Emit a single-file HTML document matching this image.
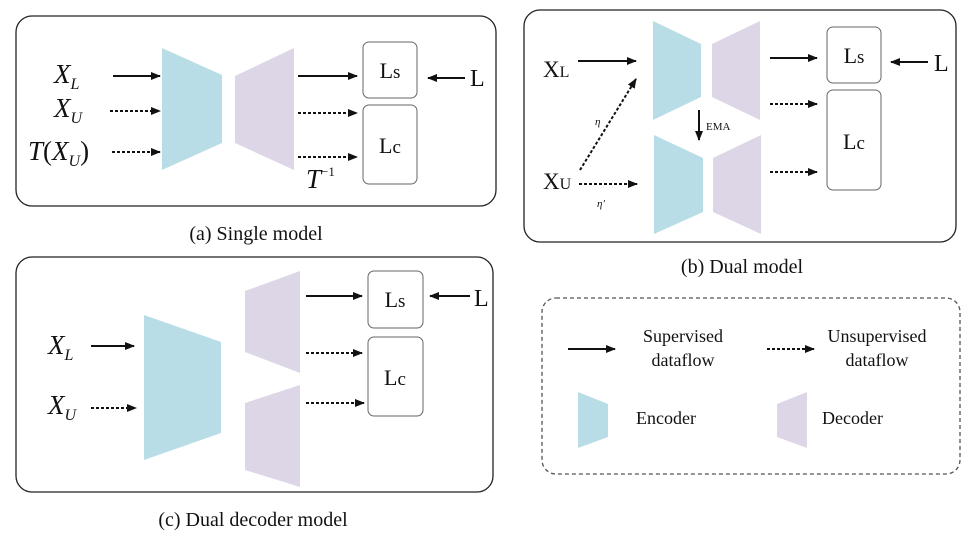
<!DOCTYPE html>
<html><head><meta charset="utf-8"><style>
html,body{margin:0;padding:0;background:#fff;}
svg{display:block;font-family:"Liberation Serif",serif;}
.i{font-style:italic;}
</style></head><body>
<svg width="973" height="542" viewBox="0 0 973 542" xmlns="http://www.w3.org/2000/svg">
<defs>
<marker id="a" markerWidth="10" markerHeight="8" refX="9" refY="4" orient="auto" markerUnits="userSpaceOnUse"><path d="M0,0 L10,4 L0,8 Z" fill="#111"/></marker>
</defs>
<g stroke="#222" fill="none" stroke-width="1.3">
<rect x="16" y="16" width="480" height="190" rx="16"/>
<rect x="524" y="10" width="432" height="232" rx="16"/>
<rect x="16" y="257" width="477" height="235" rx="16"/>
<rect x="542" y="298" width="418" height="176" rx="14" stroke-dasharray="4,3" stroke="#555"/>
</g>
<g stroke="#666" fill="#fff" stroke-width="1">
<rect x="363" y="42" width="54" height="56" rx="6"/>
<rect x="363" y="105" width="54" height="79" rx="6"/>
<rect x="827" y="27" width="54" height="56" rx="6"/>
<rect x="827" y="90" width="54" height="100" rx="6"/>
<rect x="368" y="271" width="55" height="57" rx="6"/>
<rect x="368" y="337" width="55" height="79" rx="6"/>
</g>
<g fill="#b8dde6">
<polygon points="162,48 222,75 222,143 162,170"/>
<polygon points="653,21 701,44 701,97 653,120"/>
<polygon points="654,135 703,158 703,212 654,234"/>
<polygon points="144,315 221,342 221,433 144,460"/>
<polygon points="578,392 608,404 608,437 578,448"/>
</g>
<g fill="#dcd6e6">
<polygon points="235,76 294,48 294,170 235,143"/>
<polygon points="712,44 760,21 760,120 712,97"/>
<polygon points="713,158 761,135 761,234 713,212"/>
<polygon points="245,291 300,271 300,373 245,352"/>
<polygon points="245,403 300,385 300,487 245,470"/>
<polygon points="777,404 807,392 807,448 777,437"/>
</g>
<g stroke="#111" stroke-width="2" marker-end="url(#a)">
<line x1="113" y1="76" x2="160" y2="76"/>
<line x1="298" y1="76" x2="357" y2="76"/>
<line x1="465" y1="78" x2="428" y2="78"/>
<line x1="578" y1="61" x2="636" y2="61"/>
<line x1="770" y1="58" x2="817" y2="58"/>
<line x1="928" y1="62" x2="891" y2="62"/>
<line x1="699" y1="110" x2="699" y2="140"/>
<line x1="91" y1="346" x2="134" y2="346"/>
<line x1="306" y1="296" x2="362" y2="296"/>
<line x1="470" y1="296" x2="430" y2="296"/>
<line x1="568" y1="349" x2="615" y2="349"/>
</g>
<g stroke="#111" stroke-width="2" stroke-dasharray="3,2" marker-end="url(#a)">
<line x1="110" y1="111" x2="160" y2="111"/>
<line x1="112" y1="152" x2="160" y2="152"/>
<line x1="298" y1="113" x2="357" y2="113"/>
<line x1="298" y1="157" x2="357" y2="157"/>
<line x1="580" y1="170" x2="636" y2="79"/>
<line x1="579" y1="184" x2="637" y2="184"/>
<line x1="770" y1="104" x2="817" y2="104"/>
<line x1="770" y1="172" x2="817" y2="172"/>
<line x1="91" y1="408" x2="136" y2="408"/>
<line x1="306" y1="353" x2="362" y2="353"/>
<line x1="306" y1="403" x2="364" y2="403"/>
<line x1="767" y1="349" x2="814" y2="349"/>
</g>
<g fill="#111" font-size="27">
<text x="54" y="83" class="i">X<tspan font-size="16" dy="6">L</tspan></text>
<text x="54" y="117" class="i">X<tspan font-size="16" dy="6">U</tspan></text>
<text x="28" y="160" class="i">T<tspan font-style="normal">(</tspan>X<tspan font-size="16" dy="6">U</tspan><tspan font-style="normal" dy="-6">)</tspan></text>
<text x="306" y="188" class="i">T<tspan font-size="13" font-style="normal" dy="-12">−1</tspan></text>
<text x="470" y="86" font-size="24">L</text>
<g text-anchor="middle" font-size="22">
<text x="390" y="78">L<tspan font-size="19">s</tspan></text>
<text x="390" y="153">L<tspan font-size="19">c</tspan></text>
<text x="854" y="63">L<tspan font-size="19">s</tspan></text>
<text x="854" y="149">L<tspan font-size="19">c</tspan></text>
<text x="395" y="307">L<tspan font-size="19">s</tspan></text>
<text x="395" y="385">L<tspan font-size="19">c</tspan></text>
</g>
<text x="543" y="77" font-size="23">X<tspan font-size="16">L</tspan></text>
<text x="543" y="189" font-size="23">X<tspan font-size="16">U</tspan></text>
<text x="595" y="125" font-size="11" class="i">η</text>
<text x="597" y="207" font-size="11" class="i">η'</text>
<text x="706" y="130" font-size="11">EMA</text>
<text x="934" y="71" font-size="24">L</text>
<text x="48" y="354" class="i">X<tspan font-size="16" dy="6">L</tspan></text>
<text x="48" y="414" class="i">X<tspan font-size="16" dy="6">U</tspan></text>
<text x="474" y="306" font-size="24">L</text>
<g font-size="20" text-anchor="middle">
<text x="256" y="240">(a) Single model</text>
<text x="742" y="273">(b) Dual model</text>
<text x="253" y="526">(c) Dual decoder model</text>
<text x="683" y="342" font-size="18">Supervised</text>
<text x="683" y="366" font-size="18">dataflow</text>
<text x="877" y="342" font-size="18">Unsupervised</text>
<text x="877" y="366" font-size="18">dataflow</text>
</g>
<text x="636" y="424" font-size="18">Encoder</text>
<text x="822" y="424" font-size="18">Decoder</text>
</g>
</svg>
</body></html>
